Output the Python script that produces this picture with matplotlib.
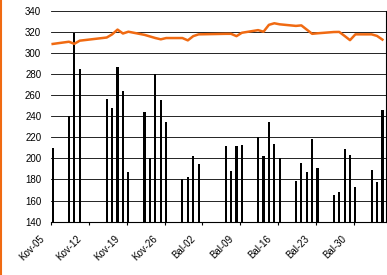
import matplotlib
matplotlib.use('Agg')
import matplotlib.pyplot as plt
import matplotlib.dates as mdates
import matplotlib.transforms as mtransforms
from matplotlib.lines import Line2D
import pandas as pd

# trading days (Kovas = March, Balandis = April, Geguze = May)
trade_dates = ['2010-03-05',
               '2010-03-08', '2010-03-09', '2010-03-10',
               '2010-03-15', '2010-03-16', '2010-03-17', '2010-03-18', '2010-03-19',
               '2010-03-22', '2010-03-23', '2010-03-24', '2010-03-25', '2010-03-26',
               '2010-03-29', '2010-03-30', '2010-03-31', '2010-04-01',
               '2010-04-06', '2010-04-07', '2010-04-08', '2010-04-09',
               '2010-04-12', '2010-04-13', '2010-04-14', '2010-04-15', '2010-04-16',
               '2010-04-19', '2010-04-20', '2010-04-21', '2010-04-22', '2010-04-23',
               '2010-04-26', '2010-04-27', '2010-04-28', '2010-04-29', '2010-04-30',
               '2010-05-03', '2010-05-04', '2010-05-05']

bar_values = [210,
              240, 319, 285,
              256, 248, 287, 264, 187,
              244, 200, 280, 255, 234,
              180, 182, 202, 195,
              212, 188, 212, 213,
              220, 202, 234, 214, 200,
              179, 196, 187, 218, 191,
              165, 168, 209, 203, 173,
              189, 178, 246]

line_values = [308.4,
               310.5, 308.5, 311.5,
               314.5, 317.5, 322.0, 318.3, 320.0,
               317.0, 315.5, 314.0, 312.8, 314.0,
               314.0, 311.8, 315.8, 317.5,
               318.0, 318.0, 315.8, 319.0,
               321.5, 320.0, 326.5, 328.0, 327.0,
               325.5, 326.0, 322.0, 318.0, 318.5,
               319.7, 319.8, 316.0, 312.0, 317.5,
               317.5, 316.0, 312.5]

tick_dates = ['2010-03-05', '2010-03-12', '2010-03-19', '2010-03-26', '2010-04-02',
              '2010-04-09', '2010-04-16', '2010-04-23', '2010-04-30']
tick_labels = ['Kov-05', 'Kov-12', 'Kov-19', 'Kov-26', 'Bal-02',
               'Bal-09', 'Bal-16', 'Bal-23', 'Bal-30']

orange = '#f06a12'
shift = 0.31  # bars sit a little right of the weekly tick marks

x = mdates.date2num(pd.to_datetime(trade_dates)) + shift
ticks = mdates.date2num(pd.to_datetime(tick_dates))

plt.rcParams['font.family'] = ['Liberation Sans', 'DejaVu Sans']

fig = plt.figure(figsize=(3.87, 2.75), dpi=100)
ax = fig.add_axes([51 / 387, 1 - 221.7 / 275, 335 / 387, (221.7 - 10.6) / 275])

ax.bar(x, [v - 140 for v in bar_values], bottom=140, width=0.4, color='black', zorder=3)
ax.plot(x, line_values, color=orange, lw=1.8, zorder=4, solid_joinstyle='round')

ax.set_ylim(140, 340)
ax.set_yticks(range(140, 341, 20))
ax.set_xlim(ticks[0], ticks[0] + 61.97)
ax.set_xticks(ticks)
ax.set_xticklabels(tick_labels, rotation=45, ha='right', fontsize=7)

ax.yaxis.grid(True, color='black', lw=0.6)
ax.set_axisbelow(True)

ax.spines['top'].set_visible(False)
ax.spines['left'].set_visible(False)
ax.spines['right'].set_color('black')
ax.spines['right'].set_linewidth(0.8)
ax.spines['bottom'].set_linewidth(0.8)

ax.tick_params(axis='y', length=0, pad=7, labelsize=7)
ax.tick_params(axis='x', length=2.5, width=0.8, direction='out', pad=6)

offset = mtransforms.ScaledTranslation(-5 / 100, 0, fig.dpi_scale_trans)
for lab in ax.get_xticklabels():
    lab.set_transform(lab.get_transform() + offset)

fig.add_artist(Line2D([0.002, 0.002], [0, 1], color=orange, lw=1.5, transform=fig.transFigure))

fig.savefig('out.png', dpi=100)
